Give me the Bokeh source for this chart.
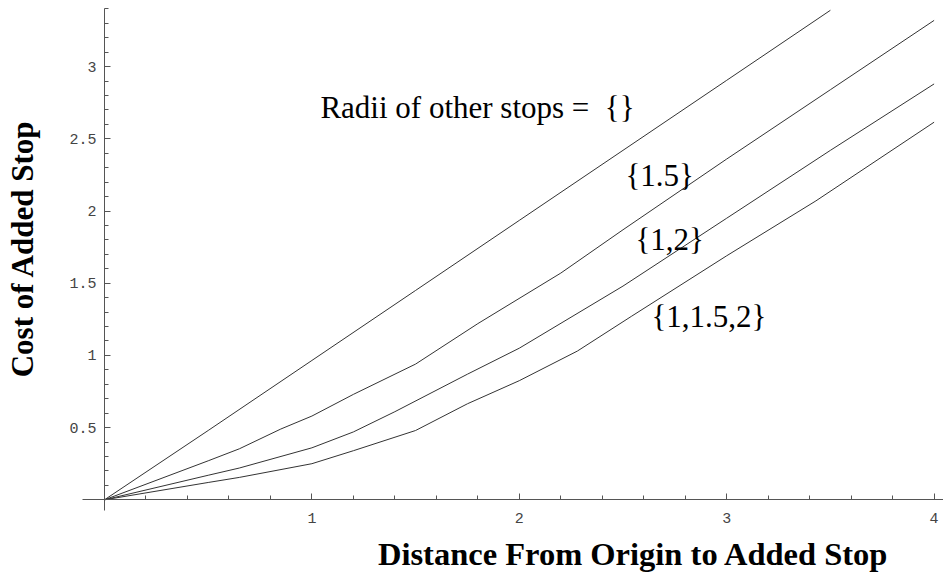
import math
from bokeh.plotting import figure
from bokeh.models import Range1d, LinearAxis, FixedTicker, ColumnDataSource
from bokeh.embed import file_html
from bokeh.resources import INLINE
from bokeh.core.properties import value

# ---- data ----
x_none = [0, 0.5, 1.0, 1.5, 2.0, 2.5, 3.0, 3.5]
y_none = [0, 0.48, 0.965, 1.45, 1.935, 2.42, 2.905, 3.39]

x_r15 = [0, 0.5, 0.65, 0.85, 1.0, 1.2, 1.5, 1.8, 2.2, 2.5, 3.0, 3.5, 4.0]
y_r15 = [0, 0.27, 0.353, 0.49, 0.58, 0.73, 0.94, 1.22, 1.57, 1.87, 2.36, 2.84, 3.32]

x_r12 = [0, 0.5, 0.65, 1.0, 1.2, 1.4, 1.75, 2.0, 2.5, 3.0, 3.5, 4.0]
y_r12 = [0, 0.17, 0.22, 0.36, 0.47, 0.61, 0.87, 1.05, 1.48, 1.95, 2.42, 2.88]

x_r1152 = [0, 0.5, 0.65, 1.0, 1.2, 1.5, 1.75, 2.0, 2.28, 2.54, 3.0, 3.43, 4.0]
y_r1152 = [0, 0.12, 0.155, 0.25, 0.34, 0.48, 0.665, 0.825, 1.03, 1.27, 1.69, 2.07, 2.615]

label_x = [1.041, 2.512, 2.56, 2.637]
label_y = [2.72, 2.247, 1.803, 1.267]
label_text = ["Radii of other stops =\u00a0\u00a0{}", "{1.5}", "{1,2}", "{1,1.5,2}"]

x_major = [1, 2, 3, 4]
x_minor = [0.2, 0.4, 0.6, 0.8, 1.2, 1.4, 1.6, 1.8, 2.2, 2.4, 2.6, 2.8,
           3.2, 3.4, 3.6, 3.8]
y_major = [0.5, 1.0, 1.5, 2.0, 2.5, 3.0]
y_minor = [0.1, 0.2, 0.3, 0.4, 0.6, 0.7, 0.8, 0.9, 1.1, 1.2, 1.3, 1.4,
           1.6, 1.7, 1.8, 1.9, 2.1, 2.2, 2.3, 2.4, 2.6, 2.7, 2.8, 2.9,
           3.1, 3.2, 3.3, 3.4]

x_title = "Distance From Origin to Added Stop"
y_title = "Cost of Added Stop"

# ---- figure (frame fills the canvas; axes drawn through the origin) ----
p = figure(width=943, height=573, output_backend="svg", toolbar_location=None,
           x_range=Range1d(-0.5014, 4.0453), y_range=Range1d(-0.5104, 3.4578),
           x_axis_location=None, y_axis_location=None, min_border=0)
p.outline_line_color = None
p.grid.visible = False
p.background_fill_color = "white"
p.border_fill_color = "white"

line_col = "#333333"
for xs, ys in [(x_none, y_none), (x_r15, y_r15), (x_r12, y_r12), (x_r1152, y_r1152)]:
    p.line(xs, ys, line_color=line_col, line_width=1)

src = ColumnDataSource(dict(x=label_x, y=label_y, t=label_text))
p.text(x="x", y="y", text="t", source=src, text_font=value("Liberation Serif"),
       text_font_size="31px", text_color="black", text_baseline="alphabetic",
       text_align="left")

def style_axis(ax):
    ax.axis_line_color = "#555555"
    ax.axis_line_width = 1
    ax.major_tick_line_color = "#555555"
    ax.minor_tick_line_color = "#555555"
    ax.major_tick_in = 6
    ax.major_tick_out = 0
    ax.minor_tick_in = 4
    ax.minor_tick_out = 0
    ax.major_label_text_font = "Liberation Mono"
    ax.major_label_text_font_size = "15px"
    ax.major_label_text_color = "#444444"

xaxis = LinearAxis(fixed_location=0, bounds=(-0.106, 4.045),
                   ticker=FixedTicker(ticks=x_major, minor_ticks=x_minor))
style_axis(xaxis)
xaxis.major_label_standoff = 13
p.add_layout(xaxis, "below")

yaxis = LinearAxis(fixed_location=0, bounds=(-0.074, 3.40),
                   ticker=FixedTicker(ticks=y_major, minor_ticks=y_minor))
style_axis(yaxis)
yaxis.major_label_standoff = 8
p.add_layout(yaxis, "left")

tsrc = ColumnDataSource(dict(x=[2.551, -0.393], y=[-0.372, 1.740],
                             t=[x_title, y_title], a=[0.0, math.pi / 2],
                             s=["32.5px", "31px"]))
p.text(x="x", y="y", text="t", angle="a", source=tsrc,
       text_font=value("Liberation Serif"), text_font_style="bold",
       text_font_size="s", text_color="black",
       text_align="center", text_baseline="alphabetic")

open("out.html", "w").write(file_html(p, INLINE))
